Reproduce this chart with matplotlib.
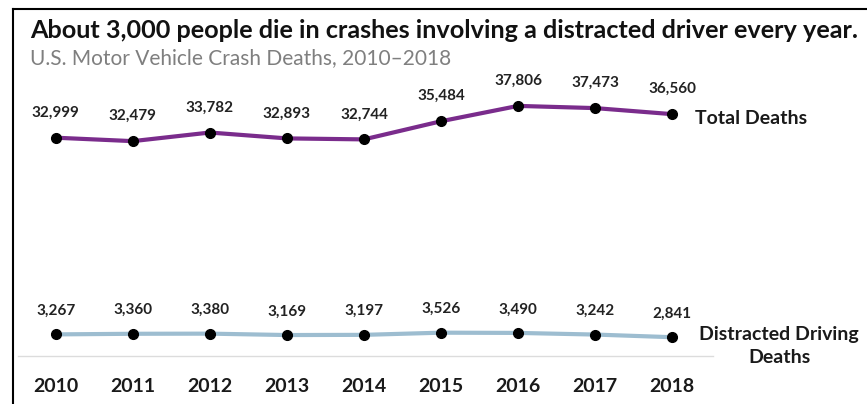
import matplotlib
matplotlib.use('Agg')
import matplotlib.pyplot as plt
from matplotlib.lines import Line2D

plt.rcParams['font.family'] = ['Lato', 'DejaVu Sans']

years = [2010, 2011, 2012, 2013, 2014, 2015, 2016, 2017, 2018]
total_deaths = [32999, 32479, 33782, 32893, 32744, 35484, 37806, 37473, 36560]
distracted_deaths = [3267, 3360, 3380, 3169, 3197, 3526, 3490, 3242, 2841]

title = 'About 3,000 people die in crashes involving a distracted driver every year.'
subtitle = 'U.S. Motor Vehicle Crash Deaths, 2010\u20132018'

fig = plt.figure(figsize=(8.67, 4.04), dpi=100)
ax = fig.add_axes([18 / 867, 0.1188, 695 / 867, 0.655])

ax.plot(years, total_deaths, color='#7a2c8c', lw=3, marker='o', ms=7,
        mfc='black', mec='black', zorder=3)
ax.plot(years, distracted_deaths, color='#9dbdd0', lw=3, marker='o', ms=7,
        mfc='black', mec='black', zorder=3)

for x, y in zip(years, total_deaths):
    ax.annotate(f'{y:,}', (x, y), xytext=(0, 18), textcoords='offset points',
                ha='center', va='center', fontsize=11, fontweight='bold', color='#222222')
for x, y in zip(years, distracted_deaths):
    ax.annotate(f'{y:,}', (x, y), xytext=(0, 17), textcoords='offset points',
                ha='center', va='center', fontsize=11, fontweight='bold', color='#222222')

ax.set_xlim(2009.51, 2018.53)
ax.set_ylim(0, 40000)
ax.set_yticks([])
ax.set_xticks(years)
ax.set_xticklabels([str(y) for y in years], fontsize=14, fontweight='bold', color='#1a1a1a')
ax.tick_params(axis='x', length=0, pad=16)
for s in ['top', 'right', 'left']:
    ax.spines[s].set_visible(False)
ax.spines['bottom'].set_color('#dcdcdc')
ax.spines['bottom'].set_linewidth(1)
ax.patch.set_alpha(0)

fig.text(30 / 867, 1 - 30 / 404, title, fontsize=18.2, fontweight='bold',
         ha='left', va='center', color='#111111')
fig.text(30 / 867, 1 - 58 / 404, subtitle, fontsize=15, ha='left', va='center',
         color='#7f7f7f')

fig.text(695 / 867, 1 - 118 / 404, 'Total Deaths', fontsize=14, fontweight='bold',
         ha='left', va='center', color='#1a1a1a')
fig.text(779 / 867, 1 - 346 / 404, 'Distracted Driving\nDeaths', fontsize=14,
         fontweight='bold', ha='center', va='center', color='#1a1a1a', linespacing=1.4)

# frame lines
fig.add_artist(Line2D([13 / 867, 1], [1 - 9 / 404, 1 - 9 / 404], color='black', lw=1.5))
fig.add_artist(Line2D([13 / 867, 13 / 867], [0, 1 - 9 / 404], color='black', lw=1.5))

fig.savefig('out.png', dpi=100)
